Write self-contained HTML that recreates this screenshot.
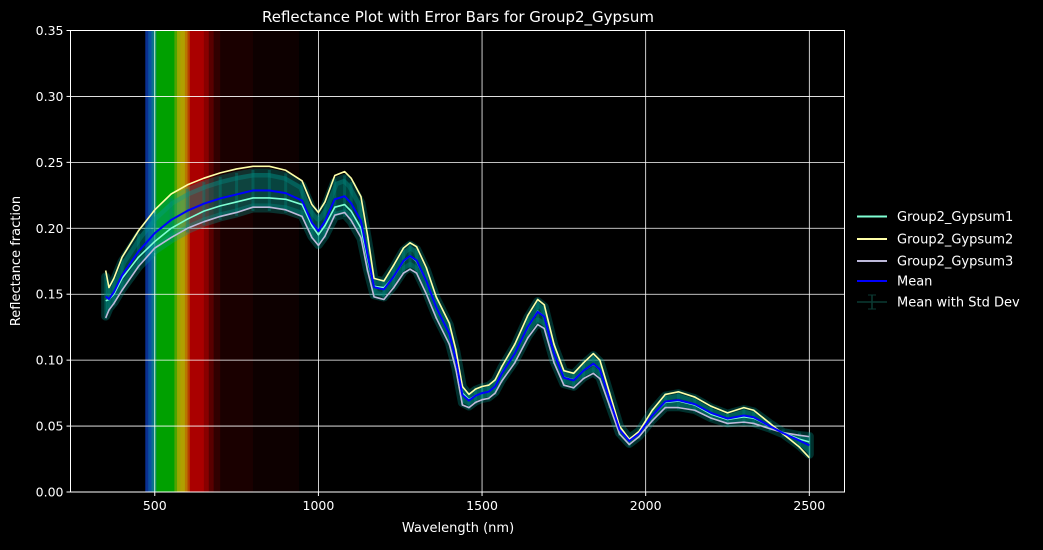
<!DOCTYPE html>
<html><head><meta charset="utf-8"><style>
body{margin:0;background:#000;width:1043px;height:545px;overflow:hidden}
text{font-family:"DejaVu Sans","Liberation Sans",sans-serif;fill:#fff}
</style></head><body>
<svg id="chart" width="1043" height="545" xmlns="http://www.w3.org/2000/svg">
<rect width="1043" height="545" fill="#000"/>
<g id="spectrum"></g>
<g id="grid"></g>
<g id="band"></g>
<g id="lines"></g>
<rect x="70.5" y="30.5" width="774" height="461.5" fill="none" stroke="#fff" stroke-width="1"/>
<g id="ticks"></g>
<text x="458" y="22" font-size="15" text-anchor="middle">Reflectance Plot with Error Bars for Group2_Gypsum</text>
<text x="458" y="532" font-size="13" text-anchor="middle">Wavelength (nm)</text>
<text transform="translate(20,261) rotate(-90)" font-size="13" text-anchor="middle">Reflectance fraction</text>
<g font-size="13">
<g><line x1="857" x2="887" y1="216.5" y2="216.5" stroke="#7fffd4" stroke-width="2"/><text x="897" y="221">Group2_Gypsum1</text></g>
<g><line x1="857" x2="887" y1="239" y2="239" stroke="#ffffa8" stroke-width="2"/><text x="897" y="243.5">Group2_Gypsum2</text></g>
<g><line x1="857" x2="887" y1="261" y2="261" stroke="#bebada" stroke-width="2"/><text x="897" y="265.5">Group2_Gypsum3</text></g>
<g><line x1="857" x2="887" y1="281" y2="281" stroke="#0000ff" stroke-width="2"/><text x="897" y="285.5">Mean</text></g>
<g><line x1="857" x2="887" y1="302" y2="302" stroke="#0b3a33" stroke-width="1.5"/><line x1="872" x2="872" y1="295" y2="309" stroke="#0b3a33" stroke-width="1.5"/><line x1="868" x2="876" y1="295" y2="295" stroke="#0b3a33"/><line x1="868" x2="876" y1="309" y2="309" stroke="#0b3a33"/><text x="897" y="306.5">Mean with Std Dev</text></g>
</g>
</svg>
<script>
const wavelengths=[350,360,375,400,450,500,550,600,650,700,750,800,850,900,950,980,1000,1020,1050,1080,1100,1130,1150,1170,1200,1230,1260,1280,1300,1330,1360,1400,1420,1440,1460,1480,1500,1520,1540,1560,1600,1640,1670,1690,1720,1750,1780,1810,1840,1860,1890,1920,1950,1980,2020,2060,2100,2150,2200,2250,2300,2330,2380,2420,2470,2500];
const gypsum1=[.145,.146,.150,.162,.178,.190,.200,.207,.213,.217,.220,.223,.223,.222,.218,.202,.195,.202,.216,.218,.213,.200,.177,.156,.155,.163,.175,.179,.175,.160,.140,.120,.100,.075,.070,.073,.075,.076,.080,.090,.105,.125,.137,.133,.105,.087,.085,.092,.097,.093,.070,.048,.040,.045,.058,.068,.069,.066,.059,.055,.057,.056,.050,.045,.040,.038];
const gypsum2=[.168,.155,.162,.178,.198,.214,.226,.233,.238,.242,.245,.247,.247,.244,.236,.218,.212,.220,.240,.243,.238,.224,.195,.162,.160,.172,.185,.189,.186,.170,.148,.128,.108,.080,.074,.078,.080,.081,.085,.095,.112,.134,.146,.142,.112,.092,.090,.098,.105,.100,.075,.050,.040,.046,.062,.074,.076,.072,.065,.060,.064,.062,.052,.044,.034,.026];
const gypsum3=[.132,.138,.143,.153,.171,.185,.193,.200,.205,.209,.212,.216,.216,.214,.209,.193,.187,.194,.210,.212,.206,.193,.168,.148,.146,.155,.166,.169,.166,.150,.132,.112,.093,.066,.064,.068,.070,.071,.075,.084,.098,.117,.127,.124,.098,.081,.079,.086,.090,.086,.065,.044,.036,.042,.054,.064,.064,.062,.056,.052,.053,.052,.048,.045,.043,.042];
const xTicks=[500,1000,1500,2000,2500];
const yTicks=[0,0.05,0.10,0.15,0.20,0.25,0.30,0.35];
const X0=70.5,X1=844.5,Y0=492,Y1=30.5,XMIN=242.5,XMAX=2607.5,YMIN=0,YMAX=0.35;
const sx=v=>X0+(v-XMIN)/(XMAX-XMIN)*(X1-X0);
const sy=v=>Y0-(v-YMIN)/(YMAX-YMIN)*(Y0-Y1);
const NS="http://www.w3.org/2000/svg";
function mk(t,a,p){const e=document.createElementNS(NS,t);for(const k in a)e.setAttribute(k,a[k]);p.appendChild(e);return e;}
const specStops=[[471,480,"#0a3090"],[480,490,"#0a50a0"],[490,497,"#0a7090"],[497,505,"#088a60"],[505,560,"#00a000"],[560,568,"#50a400"],[568,578,"#98a800"],[578,592,"#b0a000"],[592,600,"#b87800"],[600,607,"#b84000"],[607,650,"#aa0000"],[650,665,"#880000"],[665,680,"#580000"],[680,700,"#300000"],[700,800,"#1a0000"],[800,940,"#0d0000"]];
const sp=document.getElementById('spectrum');
specStops.forEach(s=>{const r=mk('rect',{x:sx(s[0]),y:Y1,width:sx(s[1])-sx(s[0])+0.3,height:Y0-Y1,fill:s[2]},sp);

});
const g=document.getElementById('grid'),tk=document.getElementById('ticks');
xTicks.forEach(v=>{const x=sx(v);mk('line',{x1:x,x2:x,y1:Y1,y2:Y0,stroke:'#fff','stroke-width':0.8},g);
mk('line',{x1:x,x2:x,y1:Y0,y2:Y0+4,stroke:'#fff'},tk);
const t=mk('text',{x:x,y:Y0+18,'font-size':12.5,'text-anchor':'middle'},tk);t.textContent=v;

});
yTicks.forEach(v=>{const y=sy(v);mk('line',{x1:X0,x2:X1,y1:y,y2:y,stroke:'#fff','stroke-width':0.8},g);
mk('line',{x1:X0-4,x2:X0,y1:y,y2:y,stroke:'#fff'},tk);
const t=mk('text',{x:X0-7,y:y+4.5,'font-size':12.5,'text-anchor':'end'},tk);t.textContent=v.toFixed(2);

});
const mean=wavelengths.map((w,i)=>(gypsum1[i]+gypsum2[i]+gypsum3[i])/3);
const sd=wavelengths.map((w,i)=>{const m=mean[i];return Math.sqrt(((gypsum1[i]-m)**2+(gypsum2[i]-m)**2+(gypsum3[i]-m)**2)/3);});
const b=document.getElementById('band');
let up=wavelengths.map((w,i)=>sx(w)+','+sy(mean[i]+sd[i])),dn=wavelengths.map((w,i)=>sx(w)+','+sy(mean[i]-sd[i])).reverse();
const poly=mk('polygon',{points:up.concat(dn).join(' '),fill:'rgba(0,150,140,0.45)',stroke:'rgba(0,160,150,0.3)','stroke-width':9,'stroke-linejoin':'round'},b);


wavelengths.forEach((w,i)=>{const x=sx(w);const e=mk('line',{x1:x,x2:x,y1:sy(mean[i]+sd[i])-3,y2:sy(mean[i]-sd[i])+3,stroke:'rgba(0,130,120,0.4)','stroke-width':3},b);

});
const L=document.getElementById('lines');
function line(arr,col,w,name){const p=mk('polyline',{points:wavelengths.map((x,i)=>sx(x)+','+sy(arr[i])).join(' '),fill:'none',stroke:col,'stroke-width':w,'stroke-linejoin':'round'},L);

}
line(gypsum3,'#bebada',1.6,'line-gypsum3');
line(gypsum1,'#7fffd4',1.6,'line-gypsum1');
line(gypsum2,'#ffffa8',1.6,'line-gypsum2');
line(mean,'#0000ff',2,'line-mean');
</script>
</body></html>
